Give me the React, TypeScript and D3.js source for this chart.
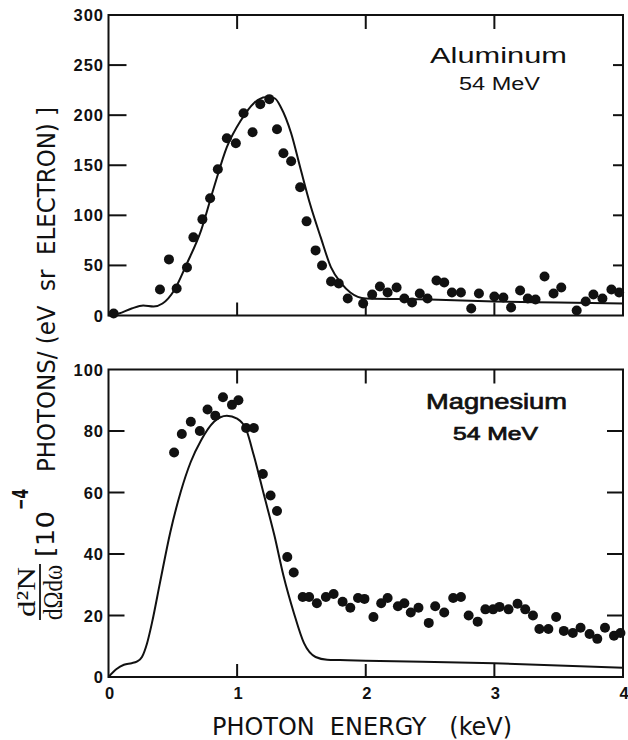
import React from 'react';
import * as d3 from 'd3';

// photon energy axis (keV)
const energyTicks = [0, 1, 2, 3, 4];

// aluminum, 54 MeV: measured points
const alEnergy = [0.04, 0.40, 0.47, 0.53, 0.61, 0.66, 0.73, 0.79, 0.85, 0.92, 0.99, 1.05, 1.12, 1.18, 1.25, 1.31, 1.36, 1.42, 1.49, 1.54, 1.61, 1.66, 1.73, 1.79, 1.86, 1.98, 2.05, 2.11, 2.17, 2.24, 2.30, 2.36, 2.42, 2.48, 2.55, 2.61, 2.67, 2.74, 2.82, 2.88, 3.00, 3.07, 3.13, 3.20, 3.26, 3.32, 3.39, 3.46, 3.52, 3.64, 3.71, 3.77, 3.84, 3.91, 3.97];
const alCounts = [2, 26, 56, 27, 48, 78, 96, 117, 146, 177, 172, 202, 183, 211, 216, 186, 162, 154, 128, 94, 65, 50, 34, 32, 17, 12, 21, 29, 23, 28, 17, 13, 22, 17, 35, 33, 23, 23, 7, 22, 19, 18, 8, 25, 17, 16, 39, 22, 28, 5, 14, 21, 17, 26, 23];
// aluminum: calculated curve
const alTheoryE = [0, 0.08, 0.18, 0.27, 0.35, 0.42, 0.51, 0.61, 0.72, 0.82, 0.92, 1.03, 1.13, 1.22, 1.29, 1.34, 1.42, 1.49, 1.57, 1.65, 1.73, 1.81, 1.88, 2.0, 2.5, 3.0, 3.5, 4.0];
const alTheoryY = [0, 2, 7, 10, 9, 12, 25, 52, 85, 128, 168, 195, 212, 218, 217, 208, 182, 148, 110, 78, 48, 32, 23, 17, 16, 14, 13, 12];
const alTicks = [0, 50, 100, 150, 200, 250, 300];

// magnesium, 54 MeV: measured points
const mgEnergy = [0.51, 0.57, 0.64, 0.71, 0.77, 0.83, 0.89, 0.96, 1.01, 1.07, 1.13, 1.20, 1.26, 1.31, 1.39, 1.44, 1.51, 1.56, 1.62, 1.69, 1.75, 1.82, 1.88, 1.94, 1.99, 2.06, 2.12, 2.17, 2.25, 2.30, 2.35, 2.41, 2.49, 2.54, 2.61, 2.68, 2.74, 2.80, 2.87, 2.93, 2.99, 3.04, 3.11, 3.18, 3.24, 3.30, 3.35, 3.42, 3.48, 3.54, 3.61, 3.67, 3.74, 3.80, 3.86, 3.93, 3.98];
const mgCounts = [73, 79, 83, 80, 87, 85, 91, 88.5, 90, 81, 81, 66, 59, 54, 39, 34, 26, 26, 24, 26, 27, 24.5, 22.5, 25.7, 25.4, 19.5, 24, 25.7, 23, 24, 21, 22.5, 17.6, 23, 21, 25.7, 26, 20, 18, 22, 22, 22.8, 22, 23.8, 22, 20, 15.6, 15.6, 19.5, 15, 14.3, 16, 14, 12.4, 16, 13.4, 14.3];
// magnesium: calculated curve
const mgTheoryE = [0, 0.06, 0.12, 0.18, 0.22, 0.26, 0.30, 0.34, 0.40, 0.48, 0.56, 0.64, 0.72, 0.82, 0.92, 1.00, 1.07, 1.13, 1.21, 1.29, 1.36, 1.44, 1.52, 1.61, 1.70, 1.80, 2.0, 3.0, 4.0];
const mgTheoryY = [0, 2.5, 4, 4.5, 5, 6.5, 11, 18, 30.6, 47, 60, 70, 77, 83, 85, 84, 80.5, 72, 59, 46, 33, 21, 11, 6.5, 5.6, 5.5, 5.3, 4.5, 3];
const mgTicks = [0, 20, 40, 60, 80, 100];

const W = 628;
const H = 740;
const x = d3.scaleLinear().domain([0, 4]).range([108.5, 623]);

const tickFont = "'Liberation Sans', Arial, sans-serif";
const labelFont = "'Liberation Sans Narrow', 'DejaVu Sans Condensed', 'Liberation Sans', sans-serif";
const serif = "'Liberation Serif', 'DejaVu Serif', serif";

function Panel(props) {
  const { top, bottom, yMax, yTicks, energies, counts, theoryE, theoryY, title, beam, heavy, showX, leftTick, rightTick } = props;
  const y = d3.scaleLinear().domain([0, yMax]).range([bottom, top]);
  const line = d3.line<number>()
    .x((d, i) => x(theoryE[i]))
    .y(d => y(d))
    .curve(d3.curveMonotoneX);
  const [x0, x1] = x.range();
  // fake a medium weight with a thin outline
  const weight = heavy ? { stroke: '#111', strokeWidth: 0.7 } : {};

  return (
    <g>
      <rect x={x0} y={top} width={x1 - x0} height={bottom - top} fill="none" stroke="#111" strokeWidth={2} />
      {yTicks.slice(1, -1).map(t => (
        <g key={'yt' + t}>
          <line x1={x0} x2={x0 + leftTick} y1={y(t)} y2={y(t)} stroke="#111" strokeWidth={2} />
          <line x1={x1} x2={x1 - rightTick} y1={y(t)} y2={y(t)} stroke="#111" strokeWidth={2} />
        </g>
      ))}
      {energyTicks.slice(1, -1).map(t => (
        <g key={'xt' + t}>
          <line x1={x(t)} x2={x(t)} y1={top} y2={top + 14} stroke="#111" strokeWidth={2} />
          <line x1={x(t)} x2={x(t)} y1={bottom} y2={bottom - 13} stroke="#111" strokeWidth={2} />
        </g>
      ))}
      {yTicks.map(t => (
        <text key={'yl' + t} x={104} y={y(t) + 6} textAnchor="end" fontFamily={tickFont} fontWeight="bold"
          fontSize={16.5} letterSpacing={1} fill="#111">{t}</text>
      ))}
      {showX && energyTicks.map(t => (
        <text key={'xl' + t} x={x(t) + 1} y={bottom + 22} textAnchor="middle" fontFamily={tickFont} fontWeight="bold"
          fontSize={16.5} fill="#111">{t}</text>
      ))}
      <path d={line(theoryY) || ''} fill="none" stroke="#111" strokeWidth={2} />
      {energies.map((e, i) => (
        <circle key={'p' + i} cx={x(e)} cy={y(counts[i])} r={5} fill="#111" />
      ))}
      <text x={title.x} y={title.y} fontFamily={tickFont} fontSize={22} {...weight}
        textLength={title.w} lengthAdjust="spacingAndGlyphs" fill="#111">{title.text}</text>
      <text x={beam.x} y={beam.y} fontFamily={tickFont} fontSize={17.5} {...weight}
        textLength={beam.w} lengthAdjust="spacingAndGlyphs" fill="#111">{beam.text}</text>
    </g>
  );
}

export default function App() {
  return (
    <svg width={W} height={H} viewBox={`0 0 ${W} ${H}`}
      style={{ position: 'absolute', left: 0, top: 0, background: '#fff' }}>
      <Panel top={15} bottom={315.5} yMax={300} yTicks={alTicks}
        energies={alEnergy} counts={alCounts} theoryE={alTheoryE} theoryY={alTheoryY}
        title={{ text: 'Aluminum', x: 430, y: 63, w: 137 }}
        beam={{ text: '54 MeV', x: 459, y: 90, w: 81 }}
        heavy={false} showX={false} leftTick={18} rightTick={10} />
      <Panel top={369.5} bottom={677} yMax={100} yTicks={mgTicks}
        energies={mgEnergy} counts={mgCounts} theoryE={mgTheoryE} theoryY={mgTheoryY}
        title={{ text: 'Magnesium', x: 426, y: 409, w: 141 }}
        beam={{ text: '54 MeV', x: 453, y: 440, w: 85 }}
        heavy={true} showX={true} leftTick={16} rightTick={16} />

      <text x={212} y={735} fontFamily={labelFont} fontSize={25} textLength={300}
        lengthAdjust="spacingAndGlyphs" fill="#111" style={{ whiteSpace: 'pre' }}>PHOTON  ENERGY   (keV)</text>

      <g transform="rotate(-90)" fill="#111">
        <text x={-617} y={35} fontFamily={serif} fontSize={26} textLength={50}
          lengthAdjust="spacingAndGlyphs">d²N</text>
        <line x1={-620} x2={-564} y1={40} y2={40} stroke="#111" strokeWidth={1.8} />
        <text x={-620} y={62} fontFamily={serif} fontSize={27} textLength={55}
          lengthAdjust="spacingAndGlyphs">dΩdω</text>
        <text x={-557} y={54} fontFamily={labelFont} fontSize={25} textLength={46}
          lengthAdjust="spacingAndGlyphs">[10</text>
        <text x={-510} y={28} fontFamily={labelFont} fontSize={22} fontWeight="bold" textLength={21}
          lengthAdjust="spacingAndGlyphs">−4</text>
        <text x={-472} y={55} fontFamily={labelFont} fontSize={25} textLength={365}
          lengthAdjust="spacingAndGlyphs" style={{ whiteSpace: 'pre' }}>PHOTONS/ (eV  sr  ELECTRON) ]</text>
      </g>
    </svg>
  );
}
